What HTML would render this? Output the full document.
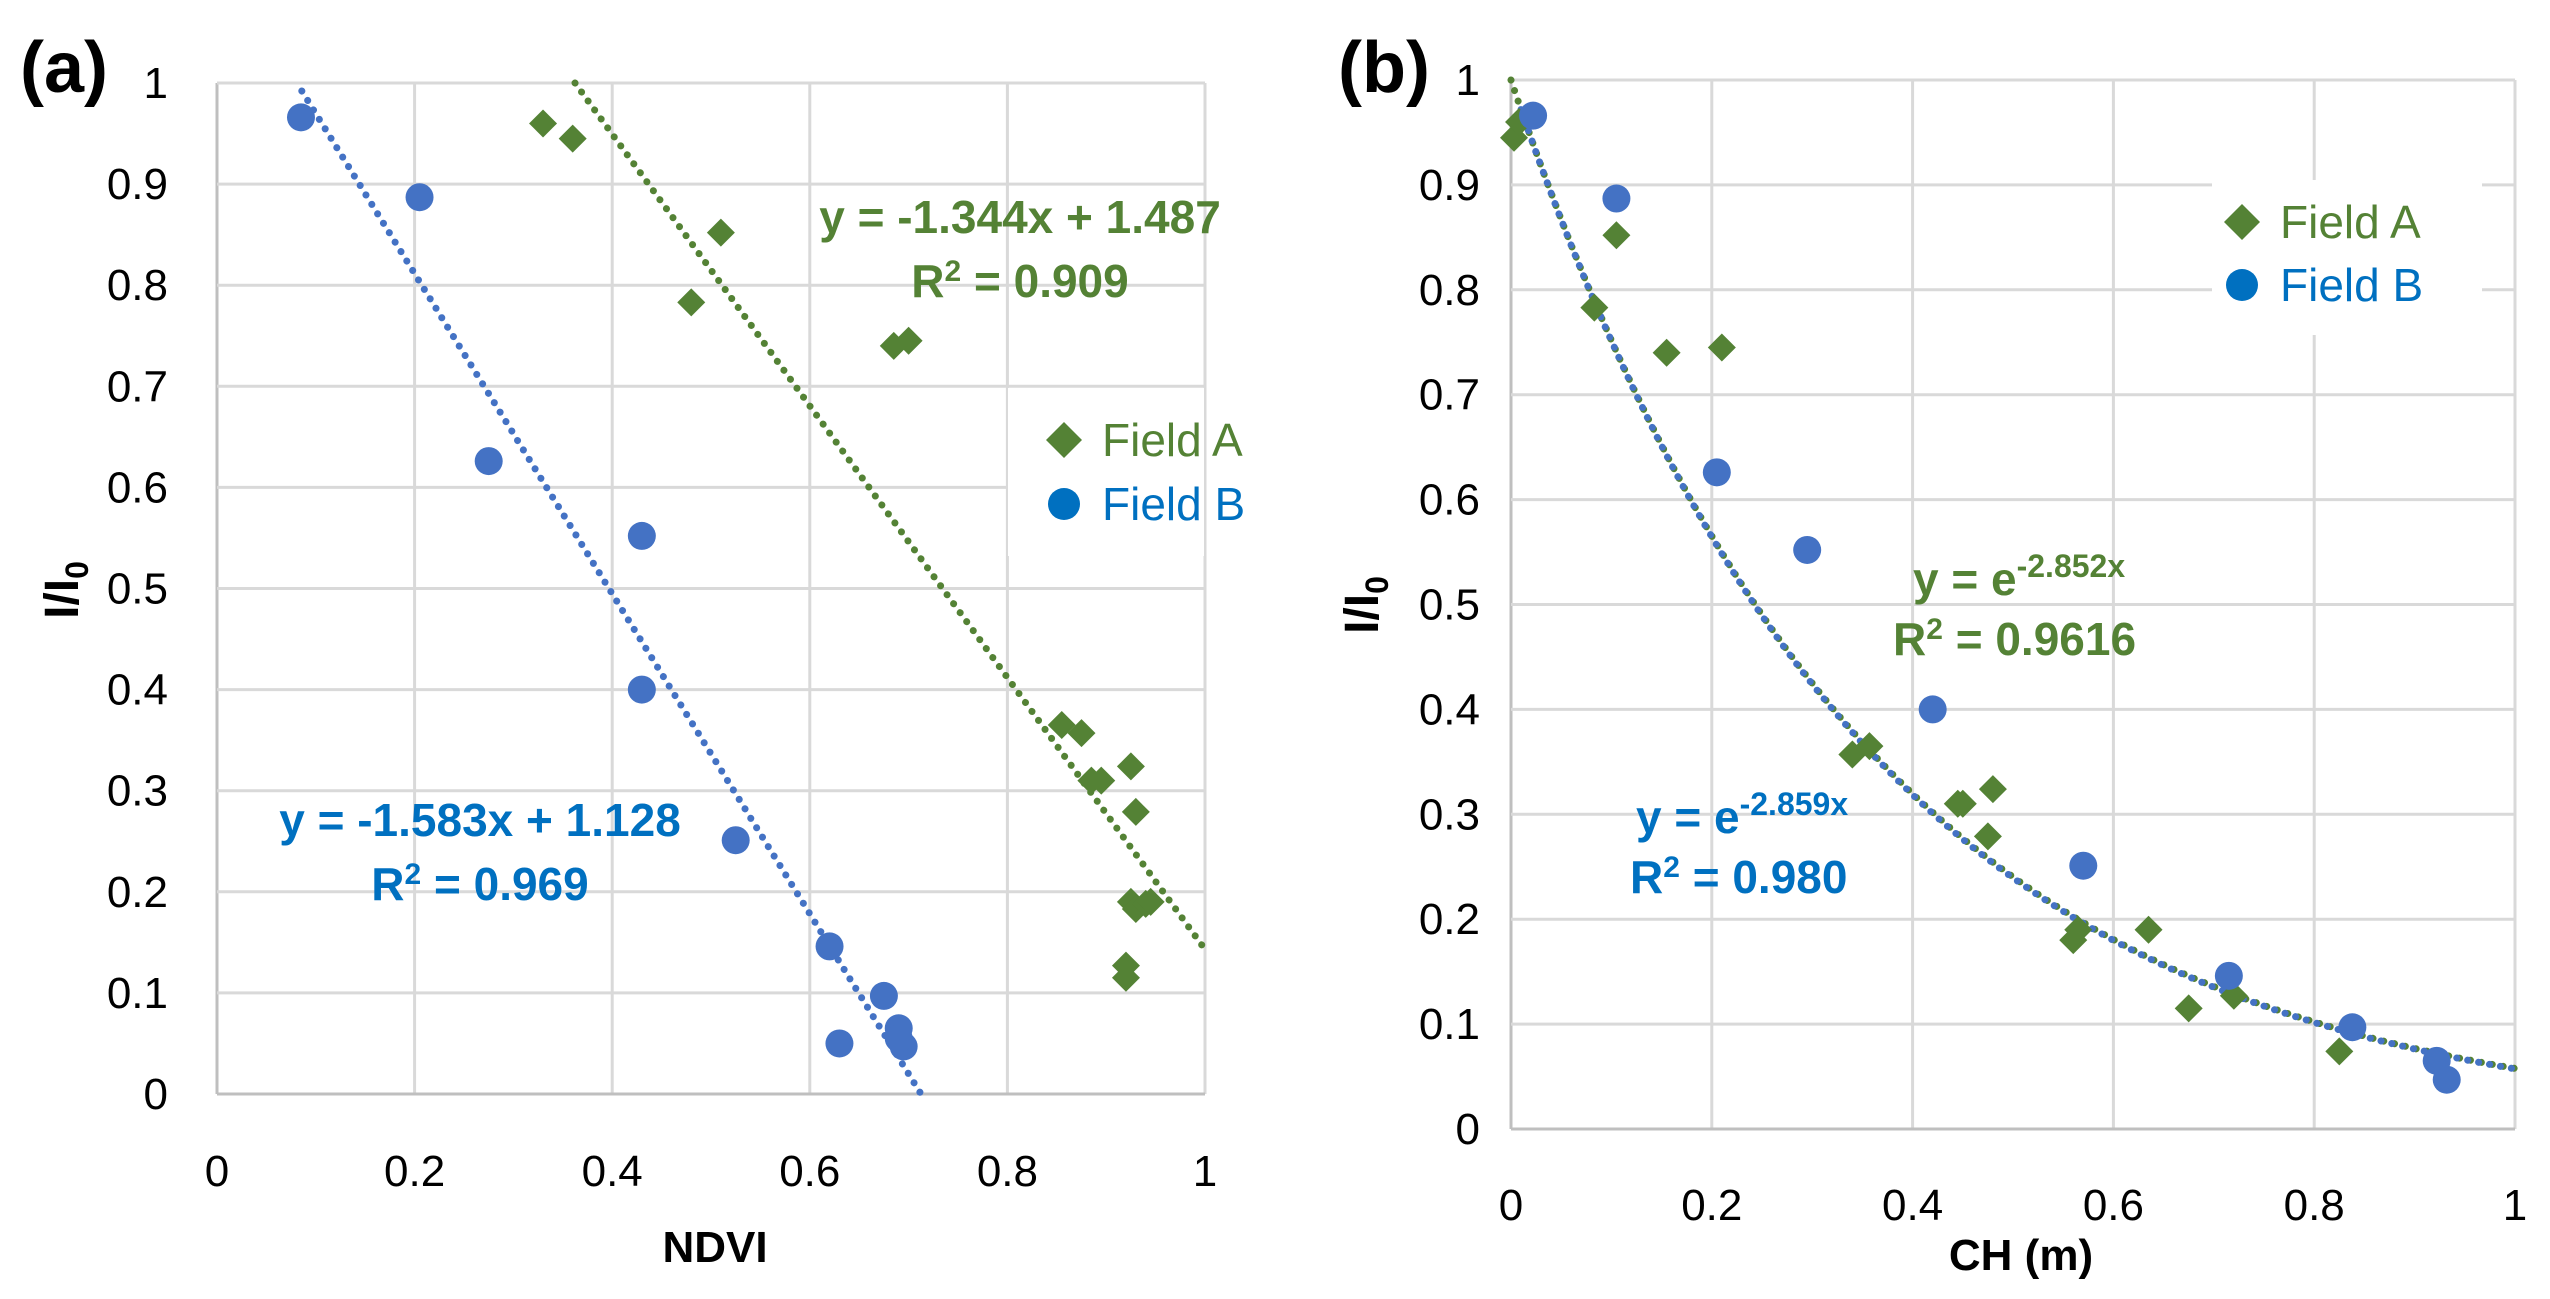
<!DOCTYPE html>
<html><head><meta charset="utf-8"><style>
html,body{margin:0;padding:0;background:#fff;}
svg{display:block;font-family:"Liberation Sans",sans-serif;}
</style></head><body>
<svg id="chart" width="2550" height="1299" viewBox="0 0 2550 1299" xmlns="http://www.w3.org/2000/svg">
<g id="pa"></g>
<g id="pb"></g>
</svg>
<script>
const ticksA = [0,0.2,0.4,0.6,0.8,1];
const ticksY = [0,0.1,0.2,0.3,0.4,0.5,0.6,0.7,0.8,0.9,1];
const aFieldAX = [0.33,0.36,0.51,0.48,0.685,0.70,0.855,0.875,0.885,0.895,0.925,0.93,0.925,0.93,0.94,0.945,0.92,0.92];
const aFieldAY = [0.96,0.945,0.852,0.783,0.74,0.745,0.365,0.357,0.31,0.31,0.324,0.279,0.19,0.183,0.188,0.19,0.127,0.115];
const aFieldBX = [0.085,0.205,0.275,0.43,0.43,0.525,0.62,0.63,0.675,0.69,0.695,0.69];
const aFieldBY = [0.966,0.887,0.626,0.552,0.4,0.251,0.146,0.05,0.097,0.065,0.047,0.055];
const aFitA = [-1.344,1.487];
const aFitB = [-1.583,1.128];
const bFieldAX = [0.003,0.008,0.105,0.083,0.155,0.21,0.34,0.357,0.445,0.45,0.48,0.475,0.56,0.565,0.635,0.675,0.72,0.825];
const bFieldAY = [0.945,0.96,0.852,0.783,0.74,0.745,0.357,0.365,0.31,0.31,0.324,0.279,0.18,0.19,0.19,0.115,0.127,0.074];
const bFieldBX = [0.022,0.105,0.205,0.295,0.42,0.57,0.715,0.838,0.922,0.932];
const bFieldBY = [0.966,0.887,0.626,0.552,0.4,0.251,0.146,0.097,0.065,0.047];
const bFitA = [-2.852];
const bFitB = [-2.859];

const NS="http://www.w3.org/2000/svg";
const GREEN="#548235", BLUE="#4472C4", TBLUE="#0070C0";
function mk(parent,tag,attrs,text){const e=document.createElementNS(NS,tag);for(const k in attrs)e.setAttribute(k,attrs[k]);if(text!==undefined)e.textContent=text;parent.appendChild(e);return e;}

function panel(g,P,cfg){
  const sx=v=>P.x0+(P.x1-P.x0)*v, sy=v=>P.y0-(P.y0-P.y1)*v;
  ticksA.forEach(t=>{const l=mk(g,'line',{x1:sx(t),x2:sx(t),y1:sy(0),y2:sy(1),stroke:t===0?'#bfbfbf':'#d9d9d9','stroke-width':3});
    
    const tx=mk(g,'text',{x:sx(t),y:P.xl,'text-anchor':'middle','font-size':44,fill:'#000'},String(t));
    });
  ticksY.forEach(t=>{const l=mk(g,'line',{x1:sx(0),x2:sx(1),y1:sy(t),y2:sy(t),stroke:t===0?'#bfbfbf':'#d9d9d9','stroke-width':3});
    
    const tx=mk(g,'text',{x:P.yl,y:sy(t)+15,'text-anchor':'end','font-size':44,fill:'#000'},String(t));
    });
  const lb=mk(g,'rect',{x:cfg.leg[0],y:cfg.leg[1],width:cfg.leg[2],height:cfg.leg[3],fill:'#fff'});
  
  cfg.fits.forEach(f=>{
    let pts=[];for(let i=0;i<=200;i++){const x=f.xa+(f.xb-f.xa)*i/200;pts.push(sx(x).toFixed(1)+','+sy(f.fn(x)).toFixed(1));}
    const pl=mk(g,'polyline',{points:pts.join(' '),fill:'none',stroke:f.c,'stroke-width':7,'stroke-dasharray':'0.1 11','stroke-linecap':'round'});
    });
  cfg.A[0].forEach((x,i)=>{const cx=sx(x),cy=sy(cfg.A[1][i]),r=14;
    const p=mk(g,'polygon',{points:`${cx},${cy-r} ${cx+r},${cy} ${cx},${cy+r} ${cx-r},${cy}`,fill:GREEN});
    });
  cfg.B[0].forEach((x,i)=>{const c=mk(g,'circle',{cx:sx(x),cy:sy(cfg.B[1][i]),r:14,fill:BLUE});
    });
  const [lx,ly1,ly2]=cfg.legItems;
  const d=mk(g,'polygon',{points:`${lx},${ly1-18} ${lx+18},${ly1} ${lx},${ly1+18} ${lx-18},${ly1}`,fill:GREEN});
  
  const t1=mk(g,'text',{x:lx+38,y:ly1+16,'font-size':46,fill:GREEN},'Field A');
  
  const c2=mk(g,'circle',{cx:lx,cy:ly2,r:16,fill:TBLUE});
  
  const t2=mk(g,'text',{x:lx+38,y:ly2+16,'font-size':46,fill:TBLUE},'Field B');
  
  const pl=mk(g,'text',{x:cfg.lab[0],y:cfg.lab[1],'font-size':72,'font-weight':'bold',fill:'#000'},cfg.lab[2]);
  
  const yt=mk(g,'text',{x:0,y:0,'font-size':48,'font-weight':'bold',fill:'#000','text-anchor':'middle',transform:`translate(${cfg.yt[0]},${cfg.yt[1]}) rotate(-90)`});
  
  yt.appendChild(document.createTextNode('I/I'));
  mk(yt,'tspan',{'font-size':32,dy:10},'0');
  const xt=mk(g,'text',{x:cfg.xt[0],y:cfg.xt[1],'font-size':44,'font-weight':'bold','text-anchor':'middle',fill:'#000'},cfg.xt[2]);
  
  cfg.eqs(g);
}

function eqText(g,name,x,y,anchor,color,parts){
  const t=mk(g,'text',{x:x,y:y,'font-size':46,'font-weight':'bold','text-anchor':anchor,fill:color});
  
  parts.forEach(p=>{if(typeof p==='string')t.appendChild(document.createTextNode(p));else mk(t,'tspan',p.a,p.t);});
  return t;
}

panel(document.getElementById('pa'),{x0:217,x1:1205,y0:1094,y1:83,xl:1186,yl:168},{
  leg:[1008,388,196,168], legItems:[1064,440,504],
  fits:[{name:'trendline-field-a',c:GREEN,xa:(1-aFitA[1])/aFitA[0],xb:1,fn:x=>aFitA[0]*x+aFitA[1]},
        {name:'trendline-field-b',c:BLUE,xa:(1-aFitB[1])/aFitB[0]+0.005,xb:-aFitB[1]/aFitB[0],fn:x=>aFitB[0]*x+aFitB[1]}],
  A:[aFieldAX,aFieldAY],B:[aFieldBX,aFieldBY],
  lab:[20,92,'(a)'], yt:[78,590], xt:[715,1262,'NDVI'],
  eqs:g=>{
    eqText(g,'equation-field-a',1020,233,'middle',GREEN,[`y = ${aFitA[0]}x + ${aFitA[1]}`]);
    eqText(g,'r2-field-a',1020,297,'middle',GREEN,['R',{t:'2',a:{'font-size':30,dy:-16}},{t:' = 0.909',a:{dy:16}}]);
    eqText(g,'equation-field-b',480,836,'middle',TBLUE,[`y = ${aFitB[0]}x + ${aFitB[1]}`]);
    eqText(g,'r2-field-b',480,900,'middle',TBLUE,['R',{t:'2',a:{'font-size':30,dy:-16}},{t:' = 0.969',a:{dy:16}}]);
  }});

panel(document.getElementById('pb'),{x0:1511,x1:2515,y0:1129,y1:80,xl:1220,yl:1480},{
  leg:[2212,180,270,155], legItems:[2242,222,285],
  fits:[{name:'trendline-field-a',c:GREEN,xa:0,xb:1,fn:x=>Math.exp(bFitA[0]*x)},
        {name:'trendline-field-b',c:BLUE,xa:0.01,xb:1,fn:x=>Math.exp(bFitB[0]*x)}],
  A:[bFieldAX,bFieldAY],B:[bFieldBX,bFieldBY],
  lab:[1338,92,'(b)'], yt:[1378,605], xt:[2021,1270,'CH (m)'],
  eqs:g=>{
    eqText(g,'equation-field-a',1913,595,'start',GREEN,['y = e',{t:String(bFitA[0])+'x',a:{'font-size':32,dy:-18}}]);
    eqText(g,'r2-field-a',1893,655,'start',GREEN,['R',{t:'2',a:{'font-size':30,dy:-16}},{t:' = 0.9616',a:{dy:16}}]);
    eqText(g,'equation-field-b',1636,833,'start',TBLUE,['y = e',{t:String(bFitB[0])+'x',a:{'font-size':32,dy:-18}}]);
    eqText(g,'r2-field-b',1630,893,'start',TBLUE,['R',{t:'2',a:{'font-size':30,dy:-16}},{t:' = 0.980',a:{dy:16}}]);
  }});
</script>
</body></html>
